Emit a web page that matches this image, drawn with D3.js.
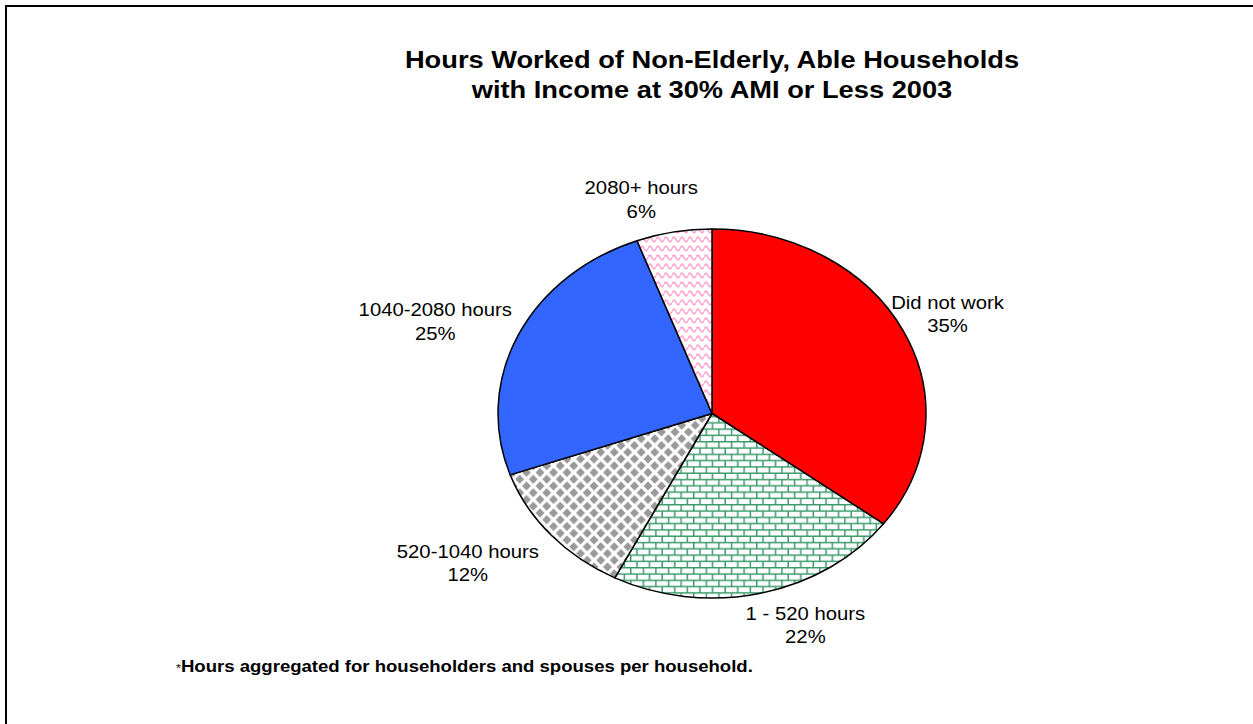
<!DOCTYPE html>
<html>
<head>
<meta charset="utf-8">
<script src="https://cdn.jsdelivr.net/npm/d3@7"></script>
<style>
  html, body { margin: 0; padding: 0; background: #fff; }
  svg { display: block; }
  text { font-family: "Liberation Sans", Arial, sans-serif; fill: #000; }
</style>
</head>
<body>
<svg id="chart" width="1253" height="724"></svg>
<script>
// ---- data ----
const categories = ["Did not work", "1 - 520 hours", "520-1040 hours", "1040-2080 hours", "2080+ hours"];
const shares = [35.2, 22.3, 12.1, 24.7, 5.7];
const titleLines = ["Hours Worked of Non-Elderly, Able Households", "with Income at 30% AMI or Less 2003"];
const footnoteMark = "*";
const footnoteText = "Hours aggregated for householders and spouses per household.";

// ---- layout ----
const W = 1253, H = 724;
const cx = 712, cy = 413.5, rx = 214, ry = 184.5;
const sx = 1.16; // horizontal stretch of the original picture
const fills = ["#ff0000", "url(#brick)", "url(#diamond)", "#3366ff", "url(#wave)"];
const labelNudge = [[6, 0], [35, -4], [-51, 4], [-44, 2], [-25, 4]];

const svg = d3.select("#chart");
const defs = svg.append("defs");

// brick pattern
const bw = 12.6, bh = 12.6;
const brick = defs.append("pattern").attr("id", "brick").attr("patternUnits", "userSpaceOnUse")
  .attr("width", bw).attr("height", bh);
brick.append("rect").attr("width", bw).attr("height", bh).attr("fill", "#fff");
const bcol = "#3a9a6a";
brick.append("path")
  .attr("d", `M0,0.7H${bw} M0,${bh/2+0.7}H${bw} M0.7,0V${bh/2} M${bw/2+0.7},${bh/2}V${bh}`)
  .attr("stroke", bcol).attr("stroke-width", 1.5).attr("fill", "none");

// diamond pattern
const dw = 13.5, dh = 13.5, dr = 4.5;
const diamond = defs.append("pattern").attr("id", "diamond").attr("patternUnits", "userSpaceOnUse")
  .attr("width", dw).attr("height", dh);
diamond.append("rect").attr("width", dw).attr("height", dh).attr("fill", "#fff");
[[0, 0], [dw, 0], [0, dh], [dw, dh], [dw / 2, dh / 2]].forEach(([x, y]) => {
  diamond.append("path").attr("d", `M${x},${y - dr}L${x + dr},${y}L${x},${y + dr}L${x - dr},${y}Z`).attr("fill", "#999999");
});

// wave pattern
const ww = 8, wh = 9;
const wave = defs.append("pattern").attr("id", "wave").attr("patternUnits", "userSpaceOnUse")
  .attr("width", ww).attr("height", wh);
wave.append("rect").attr("width", ww).attr("height", wh).attr("fill", "#fff");
wave.append("path").attr("d", `M0,5.5 Q2,1 4,5.5 T8,5.5`).attr("fill", "none")
  .attr("stroke", "#ffaad4").attr("stroke-width", 1.8);

// border
svg.append("rect").attr("x", 6).attr("y", 6).attr("width", W + 20).attr("height", H + 20)
  .attr("fill", "none").attr("stroke", "#000").attr("stroke-width", 2);

// pie
const pie = d3.pie().sort(null).value(d => d);
const arcs = pie(shares);
const px = t => cx + rx * Math.sin(t);
const py = t => cy - ry * Math.cos(t);
function sector(d) {
  const large = (d.endAngle - d.startAngle) > Math.PI ? 1 : 0;
  return `M${cx},${cy}L${px(d.startAngle)},${py(d.startAngle)}A${rx},${ry} 0 ${large} 1 ${px(d.endAngle)},${py(d.endAngle)}Z`;
}
const g = svg.append("g");
g.selectAll("path.slice").data(arcs).enter().append("path")
  .attr("class", "slice")
  .attr("d", sector)
  .attr("fill", (d, i) => fills[i])
  .attr("stroke", "#000").attr("stroke-width", 1.5).attr("stroke-linejoin", "round");

// labels
const lk = 1.2;
const lab = svg.append("g");
arcs.forEach((d, i) => {
  const m = (d.startAngle + d.endAngle) / 2;
  const x = cx + rx * lk * Math.sin(m) + labelNudge[i][0];
  const y = cy - ry * lk * Math.cos(m) + labelNudge[i][1];
  const t = lab.append("g").attr("transform", `translate(${x},${y}) scale(${sx},1)`);
  t.append("text").attr("text-anchor", "middle").attr("y", -5.5).attr("font-size", 17.5).text(categories[i]);
  t.append("text").attr("text-anchor", "middle").attr("y", 18).attr("font-size", 17.5).text(Math.round(d.data) + "%");
});

// title
const tg = svg.append("g");
titleLines.forEach((s, i) => {
  tg.append("text").attr("transform", `translate(${cx},${67.5 + i * 30}) scale(${sx},1)`)
    .attr("text-anchor", "middle").attr("font-size", 23.5).attr("font-weight", "bold").text(s);
});

// footnote
const fg = svg.append("g").attr("transform", `translate(176,672) scale(${sx},1)`);
const ft = fg.append("text").attr("font-weight", "bold");
ft.append("tspan").attr("font-size", 11).attr("font-weight", "normal").text(footnoteMark);
ft.append("tspan").attr("font-size", 16).text(footnoteText);
</script>
</body>
</html>
